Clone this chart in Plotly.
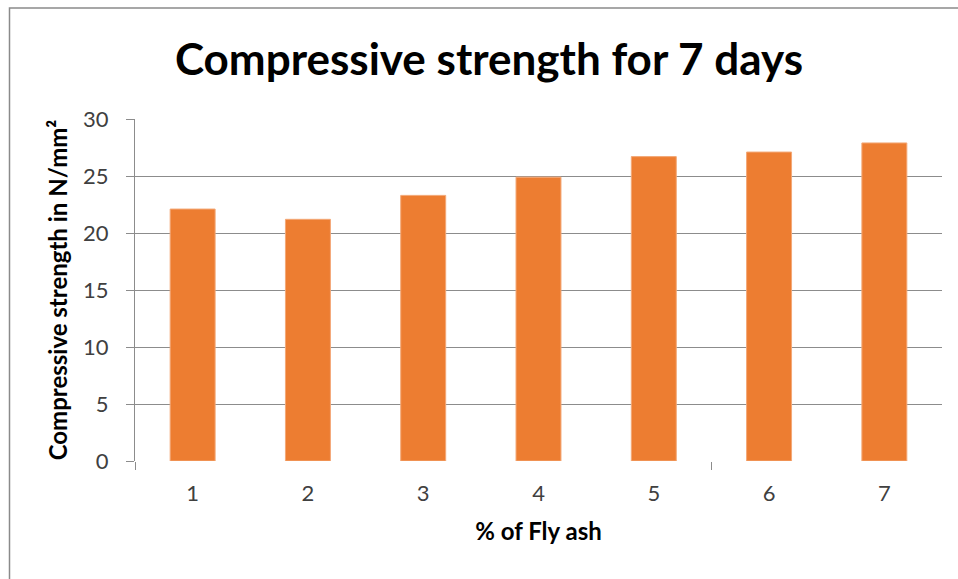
import plotly.graph_objects as go

# Data: 7-day compressive strength by fly ash percentage
fly_ash_pct = [1, 2, 3, 4, 5, 6, 7]
tick_labels = ["1", "2", "3", "4", "5", "6", "7"]
strength_7d = [22.1, 21.2, 23.3, 24.9, 26.7, 27.1, 27.9]
y_ticks = [0, 5, 10, 15, 20, 25, 30]

W, H = 958, 579
ML, MR, MT, MB = 135, 16, 119, 118

FONT = "Lato, 'Open Sans', sans-serif"
GRID = "#8c8c8c"
TEXT = "#404040"

fig = go.Figure()
fig.add_trace(go.Bar(
    x=fly_ash_pct,
    y=strength_7d,
    width=0.39,
    marker=dict(color="#ED7D31", line=dict(color="#F3A877", width=1)),
    xaxis="x",
    yaxis="y",
    showlegend=False,
))

# invisible helper trace for the secondary x axis that carries the tick marks
fig.add_trace(go.Scatter(x=[0.5], y=[0], mode="markers", marker=dict(opacity=0),
                         xaxis="x2", yaxis="y", showlegend=False, hoverinfo="skip"))

fig.update_layout(
    width=W, height=H,
    margin=dict(l=ML, r=MR, t=MT, b=MB),
    paper_bgcolor="white",
    plot_bgcolor="white",
    font=dict(family=FONT, color=TEXT),
    title=dict(
        text="<b>Compressive strength for 7 days</b>",
        x=489 / W, xanchor="center",
        y=1 - 60 / H, yanchor="middle",
        font=dict(family=FONT, size=44, color="#000000"),
    ),
    xaxis=dict(
        range=[0.5, 7.5],
        tickvals=fly_ash_pct,
        ticktext=tick_labels,
        ticks="",
        showgrid=False,
        zeroline=False,
        showline=False,
        tickfont=dict(size=22, color=TEXT),
        ticklabelstandoff=17,
        title=dict(text="<b>% of Fly ash</b>", font=dict(size=24, color="#000000"), standoff=18),
        fixedrange=True,
    ),
    xaxis2=dict(
        overlaying="x",
        side="bottom",
        anchor="y",
        range=[0.5, 7.5],
        tickvals=[0.5, 5.5],
        ticktext=["", ""],
        ticks="outside",
        ticklen=8,
        tickwidth=1,
        tickcolor=GRID,
        showgrid=False,
        zeroline=False,
        showline=False,
    ),
    yaxis=dict(
        range=[0, 30],
        tickvals=y_ticks,
        ticks="outside",
        ticklen=8,
        tickwidth=1,
        tickcolor=GRID,
        showgrid=True,
        gridcolor=GRID,
        gridwidth=1,
        zeroline=False,
        showline=True,
        linecolor=GRID,
        linewidth=1,
        tickfont=dict(size=22, color=TEXT),
        ticklabelstandoff=13,
        title=dict(text="<b>Compressive strength in N/mm²</b>", font=dict(size=24, color="#000000"), standoff=8),
        fixedrange=True,
    ),
    shapes=[
        # outer chart frame (only left and top edges fall inside the page)
        dict(type="rect", xref="paper", yref="paper",
             x0=(9.5 - ML) / (W - ML - MR), x1=(W + 5 - ML) / (W - ML - MR),
             y0=-(H + 5 - (H - MB)) / (H - MT - MB), y1=1 + (MT - 8) / (H - MT - MB),
             line=dict(color="#8a8a8a", width=1.5), layer="below"),
    ],
)

fig.write_html("out.html")
